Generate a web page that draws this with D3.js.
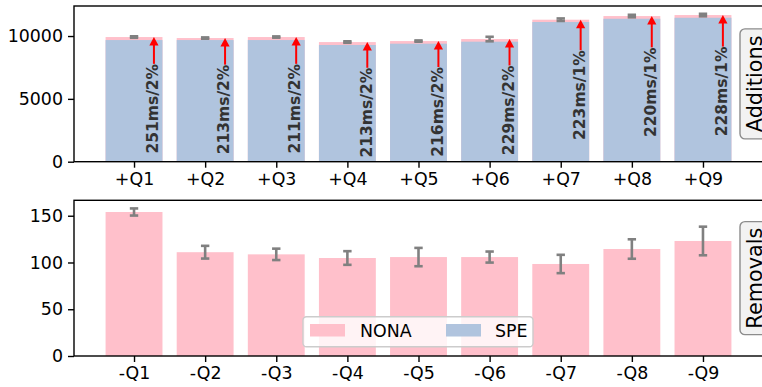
<!DOCTYPE html>
<html>
<head>
<meta charset="utf-8">
<script src="https://cdn.jsdelivr.net/npm/d3@7/dist/d3.min.js"></script>
<style>
  html, body { margin: 0; padding: 0; background: #fff; }
  svg { display: block; font-family: "DejaVu Sans", sans-serif; }
</style>
</head>
<body>
<svg id="chart" width="762" height="387"></svg>
<script>
// Query labels
const addCategories = ["+Q1", "+Q2", "+Q3", "+Q4", "+Q5", "+Q6", "+Q7", "+Q8", "+Q9"];
const removeCategories = ["-Q1", "-Q2", "-Q3", "-Q4", "-Q5", "-Q6", "-Q7", "-Q8", "-Q9"];

// Additions: NONA vs SPE
const nonaAdd = [9920, 9840, 9920, 9520, 9600, 9760, 11300, 11590, 11670];
const nonaAddErr = [60, 50, 50, 60, 50, 180, 100, 100, 100];
const speAdd = [9680, 9680, 9680, 9285, 9390, 9550, 11115, 11375, 11455];
const addNotes = ["251ms/2%", "213ms/2%", "211ms/2%", "213ms/2%", "216ms/2%", "229ms/2%", "223ms/1%", "220ms/1%", "228ms/1%"];

// Removals: NONA only
const nonaRemove = [154.0, 111.0, 108.7, 104.8, 105.8, 105.8, 98.4, 114.4, 123.0];
const nonaRemoveErr = [3.8, 6.8, 6.1, 7.3, 9.8, 5.9, 9.8, 10.4, 15.3];

const addTicks = [0, 5000, 10000];
const removeTicks = [0, 50, 100, 150];

const seriesNames = ["NONA", "SPE"];
const colors = { NONA: "#FFC0CB", SPE: "#B0C4DE" };
const errColor = "#808080";
const fontSize = 17.4;

const svg = d3.select("#chart");

const x = d3.scaleLinear().domain([-0.844, 8.844]).range([74, 763]);
const barW = x(0.8) - x(0);

function drawPanel(cfg) {
  const g = svg.append("g");
  const y = d3.scaleLinear().domain([0, cfg.yMax]).range([cfg.bottom, cfg.top]);

  // NONA bars
  g.selectAll("rect.nona").data(cfg.nona).join("rect")
    .attr("class", "nona")
    .attr("x", (d, i) => x(i) - barW / 2)
    .attr("width", barW)
    .attr("y", d => y(d))
    .attr("height", d => y(0) - y(d))
    .attr("fill", colors.NONA);

  // SPE bars drawn on top
  if (cfg.spe) {
    g.selectAll("rect.spe").data(cfg.spe).join("rect")
      .attr("class", "spe")
      .attr("x", (d, i) => x(i) - barW / 2)
      .attr("width", barW)
      .attr("y", d => y(d))
      .attr("height", d => y(0) - y(d))
      .attr("fill", colors.SPE);
  }

  // error bars
  const cap = 4.2;
  cfg.nona.forEach((d, i) => {
    const e = cfg.err[i];
    const cx = x(i);
    const eg = g.append("g").attr("stroke", errColor).attr("stroke-width", 2.6);
    eg.append("line").attr("x1", cx).attr("x2", cx).attr("y1", y(d - e)).attr("y2", y(d + e));
    eg.append("line").attr("x1", cx - cap).attr("x2", cx + cap).attr("y1", y(d - e)).attr("y2", y(d - e));
    eg.append("line").attr("x1", cx - cap).attr("x2", cx + cap).attr("y1", y(d + e)).attr("y2", y(d + e));
  });

  // annotations with arrows
  if (cfg.notes) {
    const off = 0.28;
    cfg.notes.forEach((t, i) => {
      const ax = x(i + off);
      const yTip = y(cfg.nona[i]);
      const yTail = y(cfg.nona[i] * 0.785);
      const headLen = 8.5, headHalf = 4.6;
      g.append("line")
        .attr("x1", ax).attr("x2", ax)
        .attr("y1", yTail).attr("y2", yTip + headLen - 1)
        .attr("stroke", "red").attr("stroke-width", 2);
      g.append("path")
        .attr("d", `M${ax},${yTip} L${ax - headHalf},${yTip + headLen} L${ax + headHalf},${yTip + headLen} Z`)
        .attr("fill", "red");
      g.append("text")
        .attr("transform", `translate(${ax + 4.3},${yTail}) rotate(-90)`)
        .attr("text-anchor", "end")
        .attr("font-weight", "bold")
        .attr("font-size", 15.5)
        .attr("fill", "#333333")
        .text(t);
    });
  }

  // axes
  const yAxis = d3.axisLeft(y).tickValues(cfg.ticks).tickSize(6).tickPadding(5).tickFormat(d3.format("d"));
  const ya = g.append("g").attr("transform", `translate(${x.range()[0]},0)`).call(yAxis);
  const xAxis = d3.axisBottom(x).tickValues(d3.range(9)).tickSize(6).tickPadding(5)
    .tickFormat(i => cfg.cats[i]);
  const xa = g.append("g").attr("transform", `translate(0,${cfg.bottom})`).call(xAxis);
  [ya, xa].forEach(a => {
    a.select(".domain").remove();
    a.selectAll(".tick line").attr("stroke", "#000").attr("stroke-width", 1.4);
    a.selectAll(".tick text").attr("font-size", fontSize).attr("fill", "#000")
      .attr("font-family", "DejaVu Sans, sans-serif");
  });

  // frame
  g.append("rect")
    .attr("x", x.range()[0]).attr("y", cfg.top)
    .attr("width", x.range()[1] - x.range()[0]).attr("height", cfg.bottom - cfg.top)
    .attr("fill", "none").attr("stroke", "#000").attr("stroke-width", 1.4);

  // side label box
  const mid = (cfg.top + cfg.bottom) / 2;
  g.append("rect")
    .attr("x", 740).attr("y", mid - cfg.boxHalf)
    .attr("width", 40).attr("height", cfg.boxHalf * 2)
    .attr("rx", 5).attr("ry", 5)
    .attr("fill", "#f2f2f2").attr("stroke", "#8c8c8c").attr("stroke-width", 1.4);
  g.append("text")
    .attr("transform", `translate(762,${mid}) rotate(-90)`)
    .attr("text-anchor", "middle")
    .attr("font-size", 20.8)
    .attr("fill", "#000")
    .text(cfg.side);

  return { g, y };
}

drawPanel({
  top: 6, bottom: 161.7, yMax: 12390,
  nona: nonaAdd, spe: speAdd, err: nonaAddErr, notes: addNotes,
  ticks: addTicks, cats: addCategories, side: "Additions", boxHalf: 55
});

const bottomPanel = drawPanel({
  top: 200.3, bottom: 356, yMax: 166.5,
  nona: nonaRemove, err: nonaRemoveErr,
  ticks: removeTicks, cats: removeCategories, side: "Removals", boxHalf: 56.5
});

// legend
const lg = svg.append("g").attr("transform", "translate(303,316.7)");
lg.append("rect")
  .attr("width", 230).attr("height", 30).attr("rx", 3.5).attr("ry", 3.5)
  .attr("fill", "#ffffff").attr("fill-opacity", 0.8)
  .attr("stroke", "#cccccc").attr("stroke-width", 1.4);
const items = [
  { name: seriesNames[0], sx: 7, tx: 57 },
  { name: seriesNames[1], sx: 143, tx: 192 }
];
items.forEach(it => {
  lg.append("rect").attr("x", it.sx).attr("y", 7.3).attr("width", 35).attr("height", 12.5)
    .attr("fill", colors[it.name]);
  lg.append("text").attr("x", it.tx).attr("y", 20.3)
    .attr("font-size", fontSize).attr("fill", "#000").text(it.name);
});
</script>
</body>
</html>
